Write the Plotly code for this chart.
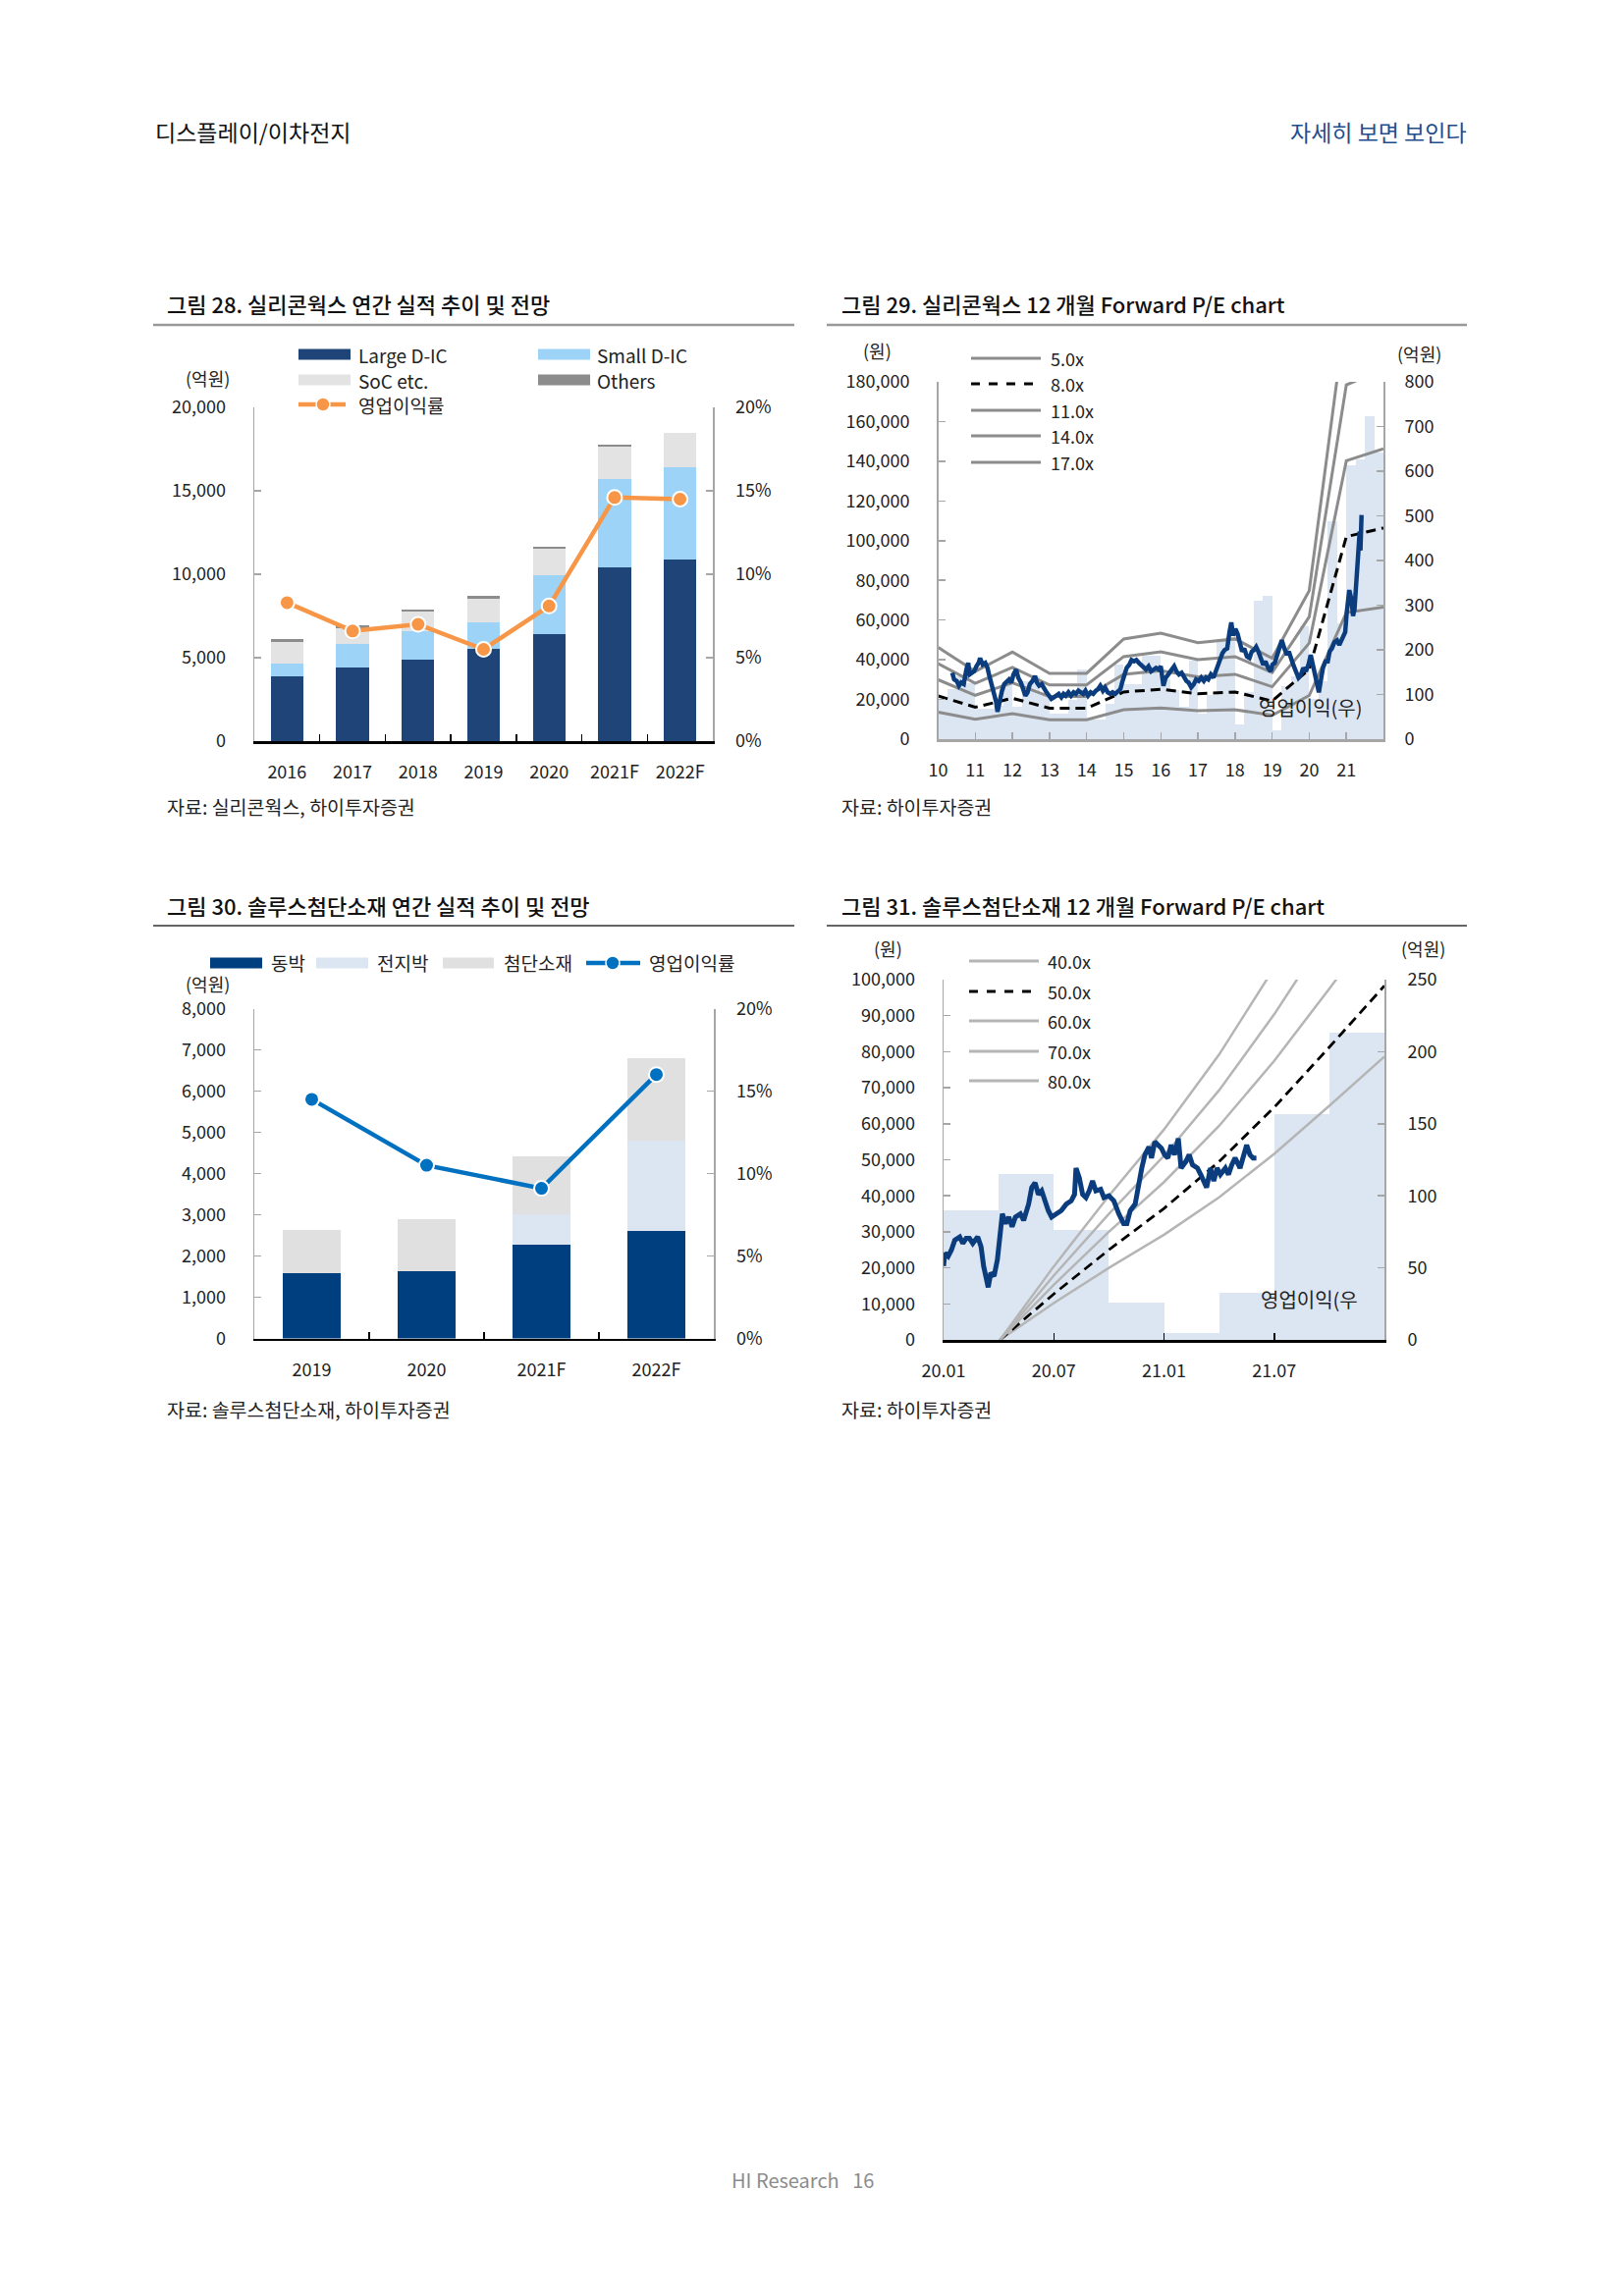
import plotly.graph_objects as go

W, H = 1654, 2339
FONT = "Noto Sans CJK KR"

# ---------------- 그림 28 data ----------------
c28_cats = ["2016", "2017", "2018", "2019", "2020", "2021F", "2022F"]
c28_large = [3900, 4390, 4890, 5530, 6430, 10440, 10880]
c28_small = [750, 1430, 1720, 1610, 3510, 5250, 5510]
c28_soc = [1300, 970, 1150, 1370, 1590, 1960, 2060]
c28_others = [140, 140, 130, 190, 130, 130, 50]
c28_margin = [0.083, 0.066, 0.070, 0.055, 0.081, 0.146, 0.145]

# ---------------- 그림 29 data ----------------
c29_years = [2010, 2011, 2012, 2013, 2014, 2015, 2016, 2017, 2018, 2019, 2020, 2021]
c29_op = [90, 112, 140, 125,
          68, 68, 75, 123,
          73, 130, 140, 102,
          58, 58, 87, 157,
          43, 43, 80, 166,
          124, 124, 186, 186,
          135, 110, 72, 176,
          58, 100, 220, 228,
          33, 105, 310, 321,
          20, 119, 140, 252,
          90, 130, 487, 260,
          614, 627, 722, 641]
c29_price_t = [2010.38, 2010.43, 2010.50, 2010.56, 2010.62, 2010.69, 2010.76, 2010.81, 2010.85, 2010.91,
               2010.97, 2011.03, 2011.09, 2011.13, 2011.20, 2011.27, 2011.33, 2011.38, 2011.44, 2011.50,
               2011.56, 2011.60, 2011.66, 2011.72, 2011.78, 2011.84, 2011.91, 2011.97, 2012.03, 2012.10,
               2012.16, 2012.23, 2012.30, 2012.35, 2012.41, 2012.47, 2012.54, 2012.61, 2012.66, 2012.72,
               2012.79, 2012.85, 2012.92, 2012.99, 2013.05, 2013.12, 2013.18, 2013.25, 2013.32, 2013.38,
               2013.44, 2013.51, 2013.58, 2013.65, 2013.71, 2013.78, 2013.84, 2013.91, 2013.97, 2014.04,
               2014.11, 2014.18, 2014.25, 2014.31, 2014.37, 2014.44, 2014.50, 2014.57, 2014.64, 2014.70,
               2014.77, 2014.84, 2014.91, 2014.97, 2015.03, 2015.08, 2015.15, 2015.21, 2015.28, 2015.34,
               2015.41, 2015.47, 2015.54, 2015.60, 2015.67, 2015.74, 2015.81, 2015.87, 2015.94, 2016.00,
               2016.07, 2016.13, 2016.20, 2016.29, 2016.36, 2016.42, 2016.49, 2016.56, 2016.63, 2016.69,
               2016.75, 2016.82, 2016.89, 2016.95, 2017.02, 2017.09, 2017.16, 2017.22, 2017.28, 2017.35,
               2017.42, 2017.48, 2017.54, 2017.60, 2017.66, 2017.72, 2017.79, 2017.85, 2017.90, 2017.95,
               2018.01, 2018.07, 2018.13, 2018.19, 2018.25, 2018.32, 2018.39, 2018.45, 2018.51, 2018.57,
               2018.63, 2018.69, 2018.76, 2018.82, 2018.89, 2018.96, 2019.01, 2019.07, 2019.13, 2019.20,
               2019.26, 2019.33, 2019.40, 2019.45, 2019.51, 2019.57, 2019.64, 2019.71, 2019.78, 2019.84,
               2019.91, 2019.98, 2020.04, 2020.10, 2020.15, 2020.22, 2020.26, 2020.31, 2020.37, 2020.44,
               2020.50, 2020.55, 2020.61, 2020.68, 2020.75, 2020.81, 2020.88, 2020.97, 2021.01, 2021.08,
               2021.14, 2021.18, 2021.22, 2021.28, 2021.32, 2021.36, 2021.38, 2021.41]
c29_price = [33400, 30100, 29300, 26900, 28500, 27700, 35100, 38400, 32600, 33400,
             34200, 36700, 38400, 40800, 37500, 38400, 35900, 31800, 27700, 23600,
             19000, 13800, 19500, 24400, 27700, 28500, 30100, 28500, 32600, 35100,
             30900, 28500, 24400, 21900, 23600, 27700, 29300, 31800, 28500, 26900,
             27700, 25200, 23600, 21900, 20300, 21100, 21900, 22800, 21100, 22800,
             21900, 23600, 21900, 23600, 22800, 24400, 23600, 22800, 24400, 21900,
             23600, 22800, 24400, 25200, 26900, 24400, 26000, 23600, 22800, 23600,
             22800, 24400, 25200, 29300, 33400, 35900, 37500, 39900, 39200, 39900,
             38400, 37500, 35900, 35100, 36700, 34200, 35100, 35900, 35100, 36700,
             26900, 30900, 32600, 35100, 36700, 34200, 32600, 33400, 31000, 29300,
             28500, 26100, 27700, 30100, 29300, 31000, 29300, 31000, 30100, 32600,
             31000, 34200, 37500, 39200, 43300, 44900, 45700, 53900, 58800, 52200,
             55500, 53000, 48900, 44100, 45700, 41600, 40800, 44100, 44900, 46500,
             44100, 40800, 37500, 39200, 35900, 34200, 37500, 38400, 42400, 45700,
             49800, 45700, 42400, 44100, 40000, 37500, 34200, 31000, 32600, 35900,
             34200, 37500, 42400, 37500, 32600, 26100, 23600, 29300, 35900, 39200,
             39200, 44100, 45700, 48900, 49800, 47400, 50600, 53900, 63700, 75100,
             70200, 62000, 65400, 85000, 92400, 104600, 95000, 112900]
c29_eps_year = [2010, 2011, 2012, 2013, 2014, 2015, 2016, 2017, 2018, 2019, 2020, 2021, 2022]
c29_eps = [2720, 2010, 2580, 1950, 1950, 2970, 3140, 2860, 2970, 2400, 4400, 12750, 13300]
c29_pe = [5, 8, 11, 14, 17]

# ---------------- 그림 30 data ----------------
c30_cats = ["2019", "2020", "2021F", "2022F"]
c30_copper = [1580, 1640, 2270, 2600]
c30_battery = [0, 0, 750, 2200]
c30_adv = [1040, 1250, 1390, 2000]
c30_margin = [0.145, 0.105, 0.091, 0.160]

# ---------------- 그림 31 data ----------------
# months counted from 2020.01
c31_q_mid = [1.5, 4.5, 7.5, 10.5, 13.5, 16.5, 19.5, 22.5]
c31_op = [90, 115, 76, 26, 5, 33, 157, 213]
c31_price_m = [0.00, 0.07, 0.25, 0.43, 0.61, 0.88, 1.05, 1.23, 1.41, 1.59,
               1.86, 2.04, 2.18, 2.30, 2.43, 2.57, 2.75, 2.93, 3.07, 3.20,
               3.37, 3.55, 3.73, 3.91, 4.18, 4.36, 4.63, 4.80, 4.98, 5.16,
               5.34, 5.52, 5.70, 5.88, 6.14, 6.41, 6.68, 6.95, 7.13, 7.21,
               7.39, 7.57, 7.75, 7.93, 8.11, 8.29, 8.55, 8.73, 9.00, 9.27,
               9.54, 9.80, 9.98, 10.16, 10.43, 10.61, 10.79, 10.96, 11.18, 11.32,
               11.50, 11.68, 11.86, 12.03, 12.21, 12.39, 12.57, 12.78, 12.93, 13.19,
               13.37, 13.55, 13.82, 14.00, 14.18, 14.32, 14.53, 14.71, 14.89, 15.07,
               15.34, 15.51, 15.69, 15.87, 16.14, 16.32, 16.50, 16.68, 16.85, 17.03]
c31_price = [20500, 24100, 23200, 25000, 27700, 28600, 26800, 28200, 28200, 26800,
             28600, 25900, 20500, 17700, 14600, 18600, 17700, 22300, 30500, 35000,
             32300, 34100, 31400, 34100, 35000, 33200, 37700, 42300, 43600, 40400,
             41400, 38600, 35900, 34100, 35000, 35900, 37700, 38600, 40400, 47700,
             45000, 40400, 39500, 41400, 44100, 41400, 41800, 39500, 40000, 38600,
             35000, 32300, 32300, 35900, 37700, 43200, 47700, 51400, 53600, 50500,
             55000, 54100, 53200, 51400, 50500, 54100, 51400, 55900, 47700, 49500,
             51400, 48600, 47700, 45900, 43600, 42300, 47700, 44100, 47700, 45900,
             47700, 45900, 48600, 50500, 47700, 51400, 54100, 51400, 50500, 50500]
c31_eps_m = [3.07, 6, 9, 12, 15, 18, 21, 24]
c31_eps = [0, 255, 500, 730, 990, 1291, 1625, 1966]
c31_pe = [40, 50, 60, 70, 80]


def X(p):
    return p / W


def Y(p):
    return 1 - p / H


fig = go.Figure()

# ---- chart 28 traces ----
for name, vals, col in [("Large D-IC", c28_large, "#1F4478"),
                        ("Small D-IC", c28_small, "#9DD3F7"),
                        ("SoC etc.", c28_soc, "#E3E3E3"),
                        ("Others", c28_others, "#8C8C8C")]:
    fig.add_trace(go.Bar(x=c28_cats, y=vals, name=name, marker=dict(color=col, line=dict(width=0)),
                         width=0.5, xaxis="x", yaxis="y"))
fig.add_trace(go.Scatter(x=c28_cats, y=c28_margin, mode="lines+markers", name="영업이익률",
                         line=dict(color="#F79646", width=4.5),
                         marker=dict(size=15, color="#F79646", line=dict(color="white", width=2)),
                         xaxis="x", yaxis="y2"))

# ---- chart 29 traces ----
q29_x = [y + (q + 0.5) / 4 for y in c29_years for q in range(4)]
fig.add_trace(go.Bar(x=q29_x, y=c29_op, width=0.25, marker=dict(color="#DCE6F2", line=dict(width=0)),
                     xaxis="x2", yaxis="y3"))
for pe in c29_pe:
    dash = "10px,6px" if pe == 8 else "solid"
    col = "#000000" if pe == 8 else "#8C8C8C"
    fig.add_trace(go.Scatter(x=c29_eps_year, y=[pe * e for e in c29_eps], mode="lines",
                             line=dict(color=col, width=3, dash=dash), xaxis="x2", yaxis="y4"))
fig.add_trace(go.Scatter(x=c29_price_t, y=c29_price, mode="lines",
                         line=dict(color="#0B3D7E", width=4.5), xaxis="x2", yaxis="y4"))

# ---- chart 30 traces ----
for name, vals, col in [("동박", c30_copper, "#003F7F"),
                        ("전지박", c30_battery, "#DCE6F2"),
                        ("첨단소재", c30_adv, "#E0E0E0")]:
    fig.add_trace(go.Bar(x=c30_cats, y=vals, name=name, marker=dict(color=col, line=dict(width=0)),
                         width=0.5, xaxis="x3", yaxis="y5"))
fig.add_trace(go.Scatter(x=c30_cats, y=c30_margin, mode="lines+markers",
                         line=dict(color="#0070C0", width=4.5),
                         marker=dict(size=15, color="#0070C0", line=dict(color="white", width=2)),
                         xaxis="x3", yaxis="y6"))

# ---- chart 31 traces ----
fig.add_trace(go.Bar(x=c31_q_mid, y=c31_op, width=3, marker=dict(color="#DCE6F2", line=dict(width=0)),
                     xaxis="x4", yaxis="y7"))
for pe in c31_pe:
    dash = "10px,6px" if pe == 50 else "solid"
    col = "#000000" if pe == 50 else "#B5B5B5"
    fig.add_trace(go.Scatter(x=c31_eps_m, y=[pe * e for e in c31_eps], mode="lines",
                             line=dict(color=col, width=2.8 if pe == 50 else 2.5, dash=dash),
                             xaxis="x4", yaxis="y8"))
fig.add_trace(go.Scatter(x=c31_price_m, y=c31_price, mode="lines",
                         line=dict(color="#0B3D7E", width=5), xaxis="x4", yaxis="y8"))

tick_font = dict(family=FONT, size=18, color="#222222")
GRAY = "#A6A6A6"


def yax(dom, rng, dtick, side, anchor, fmt=None, standoff=20, overlay=None, linecolor=GRAY, lw=1.5):
    d = dict(domain=dom, range=rng, dtick=dtick, side=side, anchor=anchor, showgrid=False,
             zeroline=False, showline=True, linecolor=linecolor, linewidth=lw, ticks="inside",
             ticklen=7, tickwidth=1.5, tickcolor=GRAY, tickfont=tick_font, ticklabelstandoff=standoff,
             fixedrange=True, automargin=False)
    if fmt:
        d["tickformat"] = fmt
    if overlay:
        d["overlaying"] = overlay
    return d


layout = dict(
    width=W, height=H, margin=dict(l=0, r=0, t=0, b=0, autoexpand=False), paper_bgcolor="white",
    plot_bgcolor="rgba(0,0,0,0)",
    showlegend=False, barmode="stack", font=dict(family=FONT, color="#222222"),
    # chart 28
    xaxis=dict(domain=[X(259), X(726)], anchor="y", type="category", showgrid=False, showline=True,
               linecolor="#000000", linewidth=2.5, ticks="inside", tickson="boundaries", ticklen=7,
               tickcolor="#000000", tickwidth=1.5, tickfont=tick_font, ticklabelstandoff=14, automargin=False),
    yaxis=yax([Y(755), Y(415)], [0, 20000], 5000, "left", "x", fmt=",", standoff=24),
    yaxis2=yax([Y(755), Y(415)], [0, 0.20], 0.05, "right", "x", fmt=".0%", standoff=18, overlay="y"),
    # chart 29
    xaxis2=dict(domain=[X(955.5), X(1409)], anchor="y3", range=[2010, 2022],
                tickvals=list(range(2010, 2022)), ticktext=[str(v)[2:] for v in range(2010, 2022)],
                showgrid=False, zeroline=False, showline=True, linecolor=GRAY, linewidth=2.5, ticks="inside",
                ticklen=7, tickwidth=1.5, tickcolor=GRAY, tickfont=tick_font, ticklabelstandoff=14,
                automargin=False),
    yaxis3=yax([Y(753), Y(389)], [0, 800], 100, "right", "x2", standoff=16, lw=2),
    yaxis4=yax([Y(753), Y(389)], [0, 180000], 20000, "left", "x2", fmt=",", standoff=24, overlay="y3"),
    # chart 30
    xaxis3=dict(domain=[X(259), X(727)], anchor="y5", type="category", showgrid=False, showline=True,
                linecolor="#000000", linewidth=2.5, ticks="inside", tickson="boundaries", ticklen=7,
                tickcolor="#000000", tickwidth=1.5, tickfont=tick_font, ticklabelstandoff=14, automargin=False),
    yaxis5=yax([Y(1363.5), Y(1027.5)], [0, 8000], 1000, "left", "x3", fmt=",", standoff=24),
    yaxis6=yax([Y(1363.5), Y(1027.5)], [0, 0.20], 0.05, "right", "x3", fmt=".0%", standoff=18, overlay="y5"),
    # chart 31
    xaxis4=dict(domain=[X(961), X(1410)], anchor="y7", range=[0, 24], tickvals=[0, 6, 12, 18],
                ticktext=["20.01", "20.07", "21.01", "21.07"], showgrid=False, zeroline=False, showline=True,
                linecolor="#000000", linewidth=2.5, ticks="inside", ticklen=7, tickwidth=1.5,
                tickcolor="#000000", tickfont=tick_font, ticklabelstandoff=14, automargin=False),
    yaxis7=yax([Y(1365), Y(998)], [0, 250], 50, "right", "x4", standoff=18, lw=2),
    yaxis8=yax([Y(1365), Y(998)], [0, 100000], 10000, "left", "x4", fmt=",", standoff=24, overlay="y7"),
)
fig.update_layout(**layout)

ann = []
shapes = []


def txt(x, y, s, size=18, color="#222222", xa="left", ya="middle", weight=400):
    ann.append(dict(x=X(x), y=Y(y), xref="paper", yref="paper", text=s, showarrow=False,
                    xanchor=xa, yanchor=ya, font=dict(family=FONT, size=size, color=color, weight=weight)))


def rect(x0, x1, yc, h, col):
    shapes.append(dict(type="rect", xref="paper", yref="paper", x0=X(x0), x1=X(x1), y0=Y(yc + h / 2),
                       y1=Y(yc - h / 2), fillcolor=col, line=dict(width=0)))


def hline(x0, x1, y, col, w, dash="solid"):
    shapes.append(dict(type="line", xref="paper", yref="paper", x0=X(x0), x1=X(x1), y0=Y(y), y1=Y(y),
                       line=dict(color=col, width=w, dash=dash)))


def dot(xc, yc, r, col):
    shapes.append(dict(type="circle", xref="paper", yref="paper", x0=X(xc - r), x1=X(xc + r),
                       y0=Y(yc + r), y1=Y(yc - r), fillcolor=col, line=dict(color="white", width=1.5)))


LEG = 19
# header / footer
txt(156, 134, "디스플레이/이차전지", size=23, color="#111111")
txt(1496, 134, "자세히 보면 보인다", size=23, color="#1F4E8C", xa="right")
txt(817, 2220, "HI Research   16", size=20, color="#8C8C8C", xa="center")

# chart 28 frame
txt(168, 309, "그림 28. 실리콘웍스 연간 실적 추이 및 전망", size=22, color="#111111", weight=500)
hline(156, 809, 331, "#999999", 2.5)
rect(304, 357, 361, 11, "#1F4478"); txt(363, 361, "Large D-IC", size=LEG)
rect(548, 601, 361, 11, "#9DD3F7"); txt(606, 361, "Small D-IC", size=LEG)
rect(304, 357, 387, 11, "#E3E3E3"); txt(363, 387, "SoC etc.", size=LEG)
rect(548, 601, 387, 11, "#8C8C8C"); txt(606, 387, "Others", size=LEG)
hline(304, 352, 412, "#F79646", 4.5); dot(329, 412, 7, "#F79646"); txt(363, 412, "영업이익률", size=LEG)
txt(211, 385, "(억원)", size=18, xa="center")
txt(168, 821, "자료: 실리콘웍스, 하이투자증권", size=19.5)

# chart 29 frame
txt(855, 309, "그림 29. 실리콘웍스 12 개월 Forward P/E chart", size=22, color="#111111", weight=500)
hline(842, 1494, 331, "#999999", 2.5)
txt(894, 357, "(원)", size=18, xa="center")
txt(1445, 360, "(억원)", size=18, xa="center")
for i, pe in enumerate(c29_pe):
    yy = [365, 391, 418, 444, 471][i]
    if pe == 8:
        hline(989, 1060, yy, "#000000", 3, "dash")
    else:
        hline(989, 1060, yy, "#8C8C8C", 3)
    txt(1068, yy, f"{pe:.1f}x", size=18)
txt(1335, 720, "영업이익(우)", size=20, xa="center")
txt(855, 821, "자료: 하이투자증권", size=19.5)

# chart 30 frame
txt(168, 922, "그림 30. 솔루스첨단소재 연간 실적 추이 및 전망", size=22, color="#111111", weight=500)
hline(156, 809, 943, "#333333", 1.3)
rect(214, 267, 981, 11, "#003F7F"); txt(274, 981, "동박", size=LEG)
rect(322, 375, 981, 11, "#DCE6F2"); txt(382, 981, "전지박", size=LEG)
rect(451, 503, 981, 11, "#E0E0E0"); txt(511, 981, "첨단소재", size=LEG)
hline(597, 652, 981, "#0070C0", 4.5); dot(624, 981, 7, "#0070C0"); txt(659, 981, "영업이익률", size=LEG)
txt(211, 1002, "(억원)", size=18, xa="center")
txt(168, 1435, "자료: 솔루스첨단소재, 하이투자증권", size=19.5)

# chart 31 frame
txt(855, 922, "그림 31. 솔루스첨단소재 12 개월 Forward P/E chart", size=22, color="#111111", weight=500)
hline(842, 1494, 943, "#333333", 1.3)
txt(904, 966, "(원)", size=18, xa="center")
txt(1449, 966, "(억원)", size=18, xa="center")
for i, pe in enumerate(c31_pe):
    yy = [979, 1010, 1040, 1071, 1101][i]
    if pe == 50:
        hline(987, 1058, yy, "#000000", 3, "dash")
    else:
        hline(987, 1058, yy, "#B5B5B5", 3)
    txt(1065, yy, f"{pe:.1f}x", size=18)
txt(1333, 1324, "영업이익(우", size=20, xa="center")
txt(855, 1435, "자료: 하이투자증권", size=19.5)

fig.update_layout(annotations=ann, shapes=shapes)
fig.write_html("out.html", config={"staticPlot": True, "displayModeBar": False},
               post_script="document.body.style.margin='0';document.body.style.overflow='hidden';")
